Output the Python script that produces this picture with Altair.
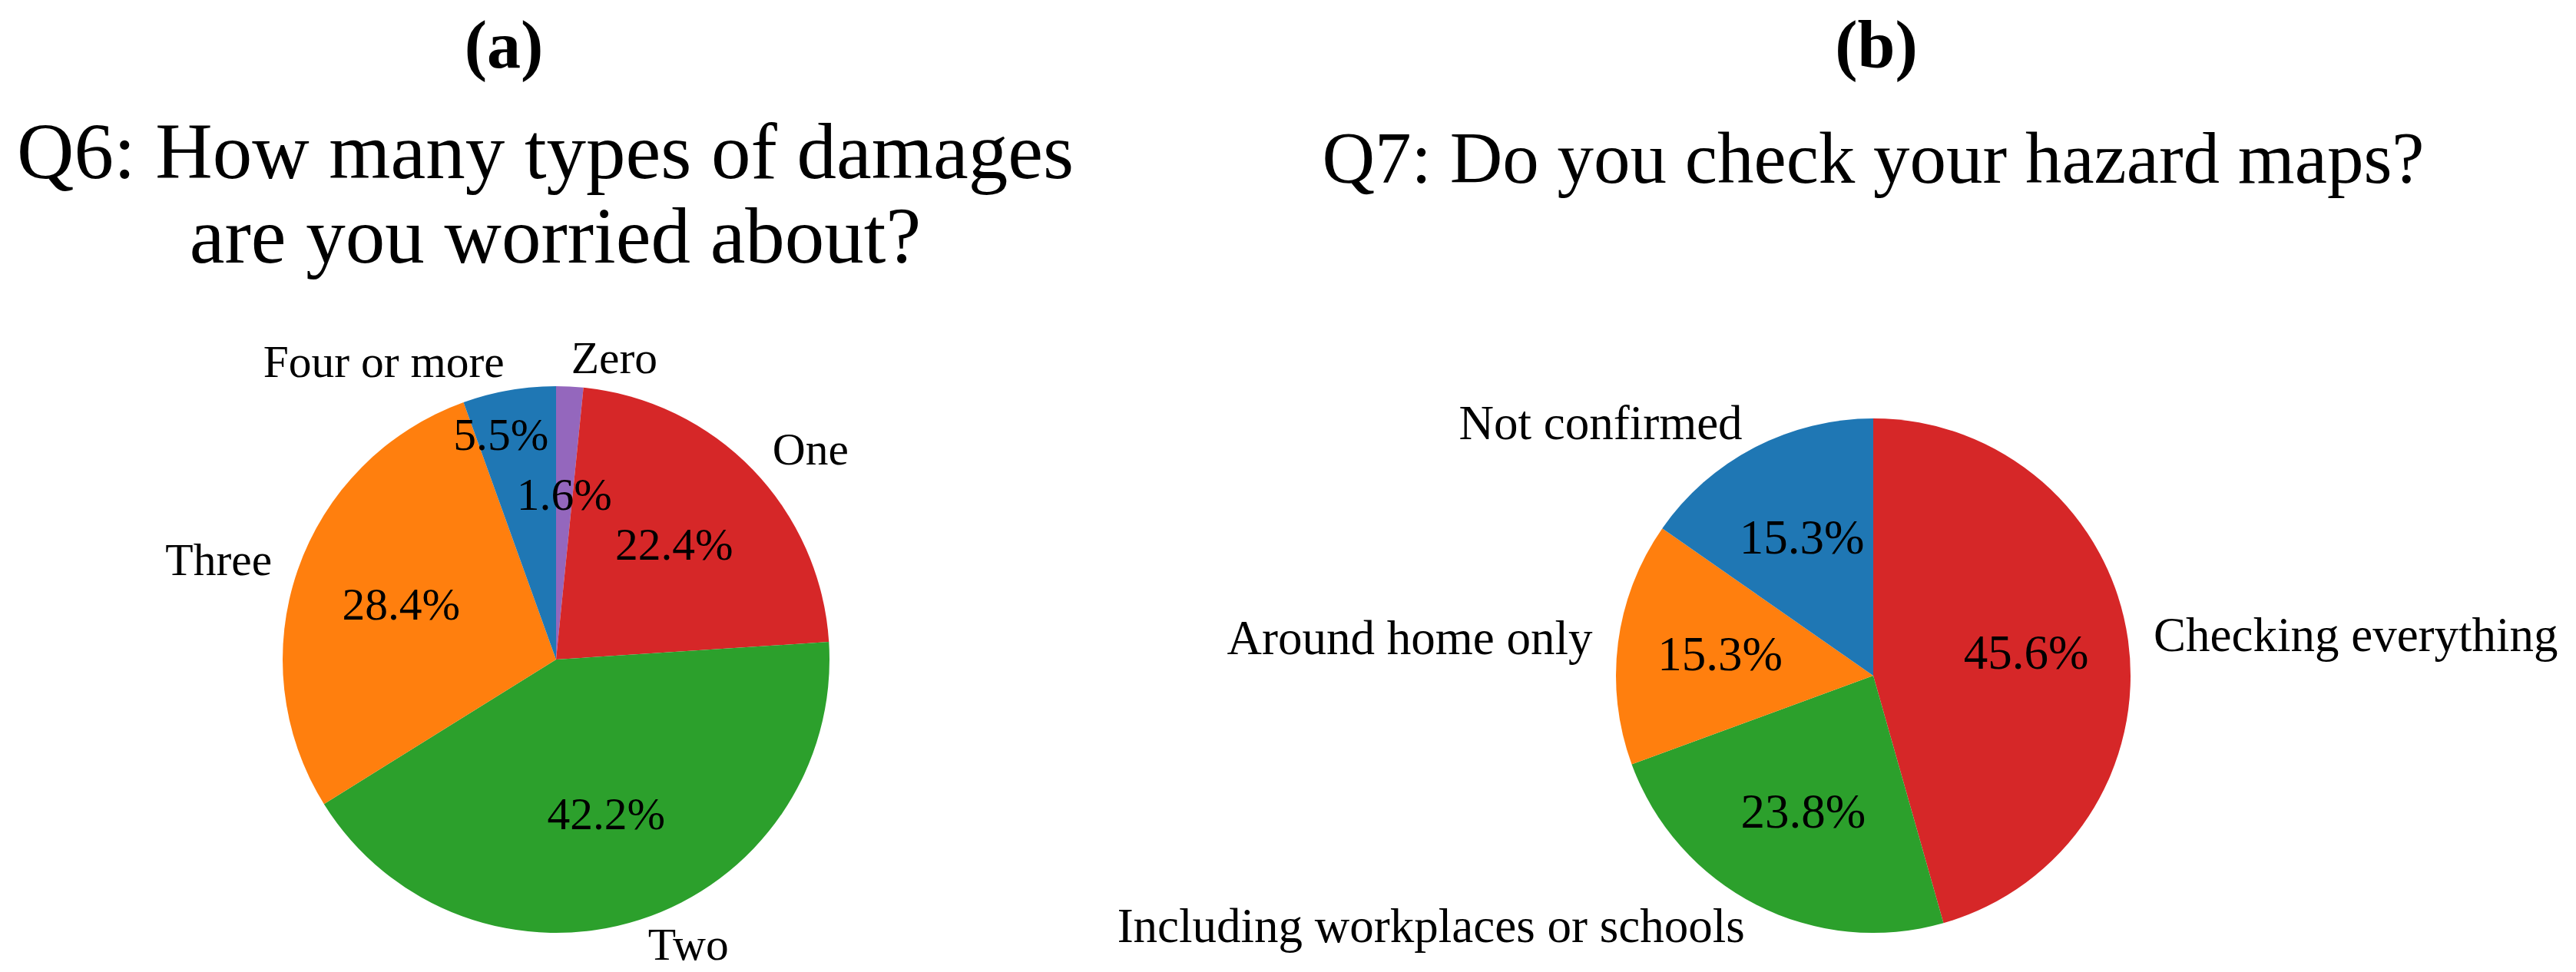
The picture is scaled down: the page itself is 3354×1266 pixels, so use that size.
import altair as alt
import pandas as pd

# ---- data ----
q6_labels = ["Zero", "One", "Two", "Three", "Four or more"]
q6_values = [1.6, 22.4, 42.2, 28.4, 5.5]
q6_colors = ["#9467bd", "#d62728", "#2ca02c", "#ff7f0e", "#1f77b4"]

q7_labels = ["Checking everything", "Including workplaces or schools",
             "Around home only", "Not confirmed"]
q7_values = [45.6, 23.8, 15.3, 15.3]
q7_colors = ["#d62728", "#2ca02c", "#ff7f0e", "#1f77b4"]

panel_tags = ["(a)", "(b)"]
q6_title = ["Q6: How many types of damages", "are you worried about?"]
q7_title = ["Q7: Do you check your hazard maps?"]

FONT = "Liberation Serif"
TAU = 6.283185307179586
theta_scale = alt.Scale(domain=[0, 1], range=[0, TAU])


def pie_frame(labels, values, colors):
    total = sum(values)
    rows, cum = [], 0.0
    for lab, v, c in zip(labels, values, colors):
        start = cum / total
        cum += v
        end = cum / total
        mid = (start + end) / 2
        rows.append(dict(label=lab, value=v, color=c, start=start, end=end,
                         mid=mid, pct=f"{v:.1f}%",
                         side="right" if mid < 0.5 else "left"))
    return pd.DataFrame(rows)


def th(field):
    return alt.Theta(f"{field}:Q", scale=theta_scale, stack=False)


def pie_layers(df, cx, cy, r, fs, moved=None, moved_dx=0, moved_dy=0):
    base = alt.Chart(df)
    pos = dict(x=alt.value(cx), y=alt.value(cy))
    arcs = base.mark_arc(radius=r).encode(
        theta=th("start"), theta2=alt.Theta2("end:Q"),
        color=alt.Color("color:N", scale=None), **pos)
    txt = dict(font=FONT, fontSize=fs, color="black", baseline="middle")
    lab_r = base.transform_filter(alt.datum.side == "right").mark_text(
        radius=1.1 * r, align="left", **txt).encode(
        theta=th("mid"), text="label:N", **pos)
    lab_l = base.transform_filter(alt.datum.side == "left").mark_text(
        radius=1.1 * r, align="right", **txt).encode(
        theta=th("mid"), text="label:N", **pos)
    layers = [arcs, lab_r, lab_l]
    if moved is None:
        pct = base.mark_text(radius=0.6 * r, align="center", **txt).encode(
            theta=th("mid"), text="pct:N", **pos)
        layers.append(pct)
    else:
        pct = base.transform_filter(alt.datum.label != moved).mark_text(
            radius=0.6 * r, align="center", **txt).encode(
            theta=th("mid"), text="pct:N", **pos)
        pct2 = base.transform_filter(alt.datum.label == moved).mark_text(
            radius=0.6 * r, align="center", dx=moved_dx, dy=moved_dy, **txt).encode(
            theta=th("mid"), text="pct:N", **pos)
        layers += [pct, pct2]
    return layers


def title_text(s, x, y, size, weight="normal"):
    return alt.Chart(pd.DataFrame({"t": [s]})).mark_text(
        font=FONT, fontSize=size, fontWeight=weight, color="black",
        align="center", baseline="alphabetic").encode(
        text="t:N", x=alt.value(x), y=alt.value(y))


df6 = pie_frame(q6_labels, q6_values, q6_colors)
df7 = pie_frame(q7_labels, q7_values, q7_colors)

layers = []
layers += pie_layers(df6, 716, 851, 356, 59.5, moved="Four or more",
                     moved_dx=-35, moved_dy=-81)
layers += pie_layers(df7, 2431, 872, 335, 63)
layers += [
    title_text(panel_tags[0], 648, 80, 88, "bold"),
    title_text(panel_tags[1], 2435, 80, 88, "bold"),
    title_text(q6_title[0], 702, 224, 103),
    title_text(q6_title[1], 715, 334, 103),
    title_text(q7_title[0], 2431, 230, 95),
]

chart = alt.layer(*layers).properties(
    width=3338, height=1250, padding=0,
    autosize=alt.AutoSizeParams(type="none"),
).configure_view(stroke=None)

chart.save("out.html", embed_options={"renderer": "svg", "actions": False})
